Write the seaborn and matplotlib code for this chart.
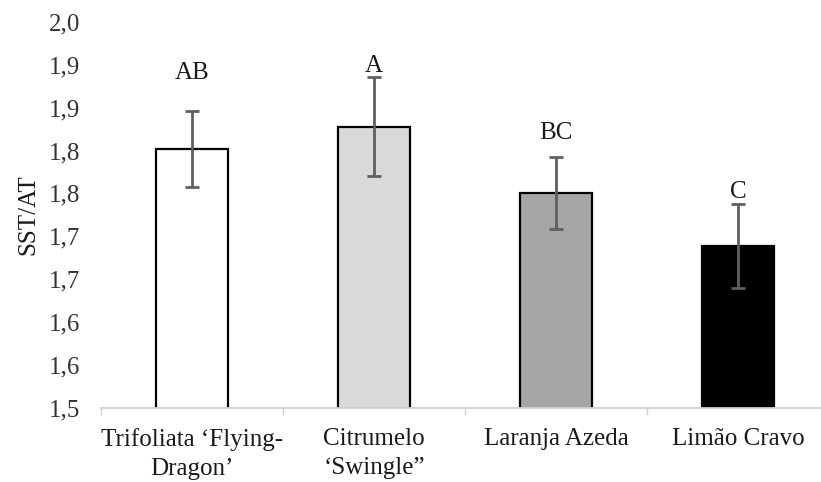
import matplotlib
matplotlib.use("Agg")
import matplotlib.pyplot as plt
import seaborn as sns
import pandas as pd

categories = ["Trifoliata \u2018Flying-\nDragon\u2019", "Citrumelo\n\u2018Swingle\u201d", "Laranja Azeda", "Lim\u00e3o Cravo"]
values = [1.802, 1.828, 1.750, 1.689]
errors = [0.0445, 0.058, 0.042, 0.049]
letters = ["AB", "A", "BC", "C"]
letter_y = [1.883, 1.892, 1.813, 1.744]
bar_colors = ["#ffffff", "#d9d9d9", "#a6a6a6", "#000000"]
ytick_values = [1.50, 1.55, 1.60, 1.65, 1.70, 1.75, 1.80, 1.85, 1.90, 1.95]
ytick_labels = ["1,5", "1,6", "1,6", "1,7", "1,7", "1,8", "1,8", "1,9", "1,9", "2,0"]

sns.set_theme(style="white")
plt.rcParams["font.family"] = ["Liberation Serif", "DejaVu Serif"]

df = pd.DataFrame({"cat": categories, "val": values})

fig = plt.figure(figsize=(8.21, 4.82), dpi=100)
ax = fig.add_axes([101 / 821, 1 - 407.5 / 482, 728 / 821, (407.5 - 22) / 482])

sns.barplot(data=df, x="cat", y="val", hue="cat", palette=bar_colors, legend=False,
            errorbar=None, width=0.4, edgecolor="black", linewidth=1.6, ax=ax)
ax.errorbar(range(len(categories)), values, yerr=errors, fmt="none",
            ecolor="#5f5f5f", elinewidth=2, capsize=4.8, capthick=2, zorder=5)

for i, (lab, ly) in enumerate(zip(letters, letter_y)):
    ax.text(i, ly, lab, ha="center", va="baseline", fontsize=18, color="#1a1a1a")

ax.set_ylim(ytick_values[0], ytick_values[-1])
ax.set_xlim(-0.5, len(categories) - 0.5)
ax.set_yticks(ytick_values)
ax.set_yticklabels(ytick_labels, fontsize=18, color="#333333")
ax.tick_params(axis="y", length=0, pad=15)
ax.set_xticks(range(len(categories)))
ax.set_xticklabels(categories, fontsize=18, color="#1a1a1a", linespacing=1.4)
ax.tick_params(axis="x", length=0, pad=15)
# category boundary ticks
ax.set_xticks([-0.5, 0.5, 1.5, 2.5, 3.5], minor=True)
ax.tick_params(axis="x", which="minor", length=5, width=1, color="#d0d0d0", direction="out", bottom=True)

ax.set_xlabel("")
ax.set_ylabel("SST/AT", fontsize=18, color="#1a1a1a", labelpad=7)

for s in ["top", "right", "left"]:
    ax.spines[s].set_visible(False)
ax.spines["bottom"].set_color("#d0d0d0")
ax.spines["bottom"].set_linewidth(1.3)

fig.savefig("out.png", dpi=100)
